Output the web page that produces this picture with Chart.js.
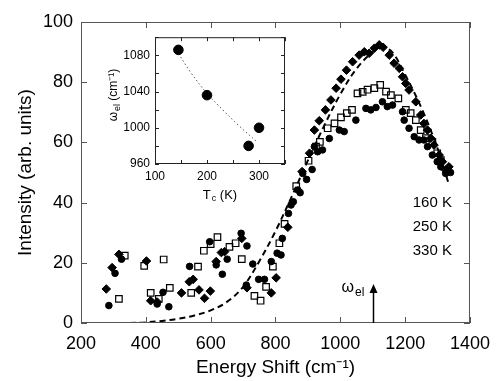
<!DOCTYPE html>
<html>
<head>
<meta charset="utf-8">
<script src="https://cdn.jsdelivr.net/npm/chart.js@4.4.1/dist/chart.umd.min.js"></script>
<style>
body{margin:0;background:#fff}
#wrap{position:relative;width:500px;height:381px}
#main{position:absolute;left:0;top:0}
#inset{position:absolute;left:100px;top:25px}
</style>
</head>
<body>
<div id="wrap">
<canvas id="main" width="500" height="381"></canvas>
<canvas id="inset" width="195" height="180"></canvas>
</div>
<script>

/* ---- spectra: energy shift (cm-1) / intensity (arb. units) ---- */

let shift160 = [278,296,317,402,415,435,510,534,546,564,581,599,617,633,643,696,712,787,802,838,882,905,920,935,954,971,987,1002,1019,1038,1058,1074,1089,1105,1120,1132,1151,1166,1182,1192,1202,1212,1233,1248,1258,1269,1279,1289,1305,1315,1325,1335]
let int160 = [11.3,18.4,22.8,20.6,7.4,7,10,13.7,14.5,11,8.2,10.6,20.4,23.4,23.7,28.1,11.7,10,15,31.8,50.3,56.4,64.1,67.2,70.8,74.1,78,81,84,86.8,89,90.1,89.6,91.3,92.4,91.6,89,86.3,84.6,81.8,79.6,77.4,73.5,69.1,66.3,64.1,61.4,59.1,55.8,53.6,50.8,51.9]

let shift250 = [317,335,395,415,440,455,474,540,561,579,600,621,658,677,696,735,754,771,792,812,828,864,902,925,937,961,982,1002,1020,1036,1053,1069,1084,1105,1123,1141,1156,1179,1202,1217,1233,1248,1264,1284,1299,1310]
let int250 = [8,22.4,19,10,8,21.1,11.7,10,18.7,24,26.2,28.5,25.3,26.5,21.2,9,7.4,12,18.7,26.5,32.9,45.5,53.9,58.6,60.2,64.7,66.3,68.3,69.7,70.8,76.3,76.8,77.5,78,79.1,76.9,75.7,74.6,70.8,69.7,67.4,64.1,61.4,60.2,56.4,54.1]

let shift330 = [286,305,325,435,453,471,535,597,617,636,651,694,710,712,730,748,766,787,805,817,821,840,848,855,869,876,884,896,913,920,930,945,966,997,1012,1048,1079,1094,1110,1130,1145,1161,1192,1197,1212,1228,1243,1258,1269,1284,1299,1310,1325,1340]
let int330 = [5.8,16.5,21.2,6.3,10.2,5.4,18.8,27,19.3,16.2,21.2,29.8,12.6,25.6,19.6,14.5,14.5,20.4,23.2,22.6,28.1,36.4,39.2,40.3,44.2,43.3,49.7,47.7,51,58.6,56.9,57.5,61.3,64.1,63.6,67.4,71.3,70.8,71.6,73.5,71.9,72.4,70.2,67.4,64.7,61.9,60.8,60.8,58.6,55.8,53.6,51.9,49.7,50]

/* dashed model curve */
let fitShift = [350,400,450,500,550,600,650,700,750,800,850,900,950,1000,1050,1100,1130,1160,1200,1250,1300,1335]
let fitInt = [0,0.2,0.7,1.4,2.5,4.2,7,12,20.5,30.5,42,54,65.5,76,84.5,90,91.5,90,82.5,71.5,58,46]

let tempLabels = ["160 K","250 K","330 K"]
let omegaMark = 1100   // cm-1, arrow position
let omegaTop = 12.6

/* ---- inset: omega_el vs Tc ---- */

let tc = [145,200,280,300]
let omegaEl = [1086,1036,980,1000]
let insetFitT = [145,170,200,230,260,295]
let insetFitW = [1082,1060,1038,1020,1003,985]

const FONT = "'Liberation Sans', Arial, sans-serif"

function pts(xs, ys){
return xs.map((v,i)=>({x:v,y:ys[i]}))
}

/* text with a lowered, smaller part in the middle: main + sub + rest */
function subText(ctx, x, y, main, sub, rest, size, align){
let small = Math.round(size*0.72)
ctx.font = size+"px "+FONT
let w1 = ctx.measureText(main).width
let w3 = ctx.measureText(rest).width
ctx.font = small+"px "+FONT
let w2 = ctx.measureText(sub).width
let total = w1+1+w2+w3
let x0 = align==="center" ? x-total/2 : x
ctx.textAlign = "left"
ctx.font = size+"px "+FONT
ctx.fillText(main,x0,y)
ctx.font = small+"px "+FONT
ctx.fillText(sub,x0+w1+1,y+size*0.3)
ctx.font = size+"px "+FONT
ctx.fillText(rest,x0+w1+1+w2,y)
}

/* frame with inward ticks on all four sides */
const frame = {
id:"frame",
afterDraw(chart, args, o){
let {ctx, chartArea:a, scales:{x,y}} = chart
ctx.save()
ctx.strokeStyle = o.color
ctx.lineWidth = 1
ctx.strokeRect(a.left+0.5, a.top+0.5, a.right-a.left-1, a.bottom-a.top-1)
ctx.beginPath()
x.ticks.forEach(t=>{
let px = Math.round(x.getPixelForValue(t.value))+0.5
ctx.moveTo(px,a.bottom); ctx.lineTo(px,a.bottom-o.len)
ctx.moveTo(px,a.top); ctx.lineTo(px,a.top+o.len)
})
y.ticks.forEach(t=>{
let py = Math.round(y.getPixelForValue(t.value))+0.5
ctx.moveTo(a.left,py); ctx.lineTo(a.left+o.len,py)
ctx.moveTo(a.right,py); ctx.lineTo(a.right-o.len,py)
})
ctx.stroke()
ctx.restore()
}
}

/* arrow + temperature labels on the main plot */
const marks = {
id:"marks",
afterDraw(chart){
let {ctx, chartArea:a, scales:{x,y}} = chart
ctx.save()
ctx.fillStyle = "#000"
ctx.strokeStyle = "#000"

let ax = Math.round(x.getPixelForValue(omegaMark))+0.5
let y0 = y.getPixelForValue(0)
let y1 = y.getPixelForValue(omegaTop)
ctx.lineWidth = 1.5
ctx.beginPath()
ctx.moveTo(ax,y0); ctx.lineTo(ax,y1+4)
ctx.stroke()
ctx.beginPath()
ctx.moveTo(ax,y1-1); ctx.lineTo(ax-4,y1+8); ctx.lineTo(ax+4,y1+8); ctx.closePath()
ctx.fill()

ctx.textBaseline = "middle"
subText(ctx, ax-32, y1+3, "\u03c9", "el", "", 16, "left")

ctx.font = "15px "+FONT
ctx.textAlign = "right"
let ly = y.getPixelForValue(40)
tempLabels.forEach((t,i)=>{
ctx.fillText(t, a.right-18, ly+i*24)
})
ctx.restore()
}
}

/* inset axis titles */
const insetTitles = {
id:"insetTitles",
afterDraw(chart){
let {ctx, chartArea:a} = chart
ctx.save()
ctx.fillStyle = "#000"
ctx.textBaseline = "middle"
subText(ctx, (a.left+a.right)/2, 170, "T", "c", " (K)", 13, "center")
ctx.translate(14, 70)
ctx.rotate(-Math.PI/2)
subText(ctx, 0, 0, "\u03c9", "el", " (cm\u207b\u00b9)", 12, "center")
ctx.restore()
}
}

let tickFont = {family:FONT,size:18}

new Chart(document.getElementById("main"),{
type:"scatter",
data:{
datasets:[
{
label:"330 K",
data:pts(shift330,int330),
pointStyle:"circle",
pointRadius:3.3,
backgroundColor:"#000",
borderColor:"#000",
borderWidth:1
},
{
label:"250 K",
data:pts(shift250,int250),
pointStyle:"rect",
pointRadius:4.6,
backgroundColor:"rgba(255,255,255,0)",
borderColor:"#000",
borderWidth:1.2
},
{
label:"160 K",
data:pts(shift160,int160),
pointStyle:"rectRot",
pointRadius:4.3,
backgroundColor:"#000",
borderColor:"#000",
borderWidth:1
},
{
label:"fit",
data:pts(fitShift,fitInt),
showLine:true,
borderColor:"#000",
borderWidth:2,
borderDash:[6,4],
pointRadius:0,
tension:0.35
}
]
},
options:{
responsive:false,
animation:false,
layout:{padding:{top:22,right:29,left:0,bottom:0}},
plugins:{
legend:{display:false},
tooltip:{enabled:false},
frame:{color:"#555",len:6}
},
scales:{
x:{
type:"linear",
min:200,
max:1400,
ticks:{stepSize:200,padding:10,color:"#000",font:tickFont,maxRotation:0,
callback:v=> String(v)},
grid:{display:false,drawTicks:false},
border:{display:false},
title:{display:true,text:"Energy Shift (cm\u207b\u00b9)",color:"#000",font:{family:FONT,size:19},padding:{top:0,bottom:2}},
afterFit:s=>{s.height=58}
},
y:{
min:0,
max:100,
ticks:{stepSize:20,padding:8,color:"#000",font:tickFont},
grid:{display:false,drawTicks:false},
border:{display:false},
title:{display:true,text:"Intensity (arb. units)",color:"#000",font:{family:FONT,size:19},padding:{top:14,bottom:0}},
afterFit:s=>{s.width=81}
}
}
},
plugins:[frame,marks]
})

let insetFont = {family:FONT,size:12}

new Chart(document.getElementById("inset"),{
type:"scatter",
data:{
datasets:[
{
data:pts(tc,omegaEl),
pointRadius:4.8,
backgroundColor:"#000",
borderColor:"#000"
},
{
data:pts(insetFitT,insetFitW),
showLine:true,
borderColor:"#555",
borderWidth:1,
borderDash:[1.5,2.5],
pointRadius:0,
tension:0.4
}
]
},
options:{
responsive:false,
animation:false,
layout:{padding:{top:9,right:10,left:0,bottom:0}},
plugins:{
legend:{display:false},
tooltip:{enabled:false},
frame:{color:"#222",len:4}
},
scales:{
x:{
type:"linear",
min:100,
max:350,
ticks:{stepSize:50,padding:5,color:"#000",font:insetFont,maxRotation:0,
callback:v=> v%100===0 ? String(v) : ""},
grid:{display:false,drawTicks:false},
border:{display:false},
afterFit:s=>{s.height=41}
},
y:{
min:960,
max:1100,
ticks:{stepSize:20,padding:5,color:"#000",font:insetFont,
callback:v=> (v-960)%40===0 ? String(v) : ""},
grid:{display:false,drawTicks:false},
border:{display:false},
afterFit:s=>{s.width=55}
}
}
},
plugins:[frame,insetTitles]
})

</script>
</body>
</html>
